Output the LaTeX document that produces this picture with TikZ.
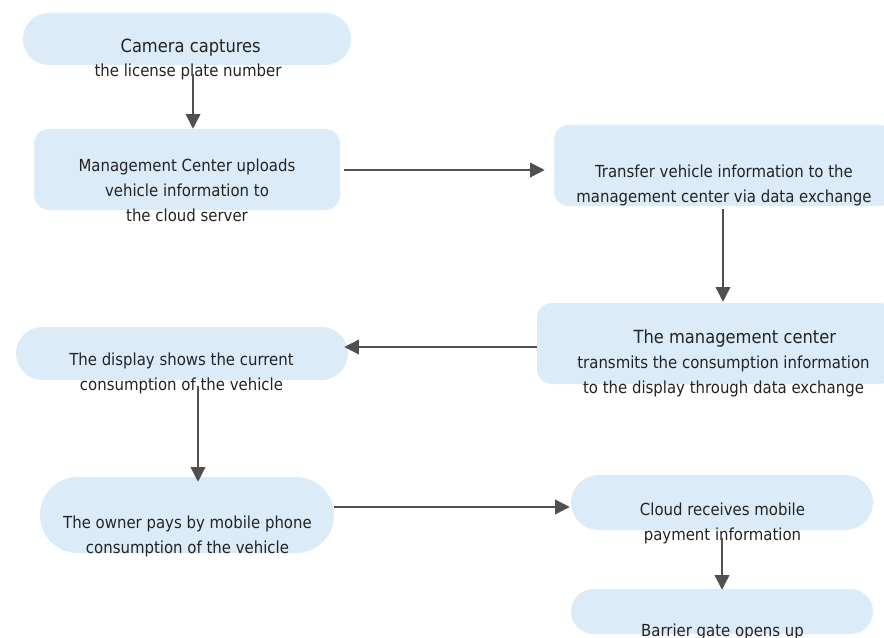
\documentclass[tikz,border=0pt]{standalone}
\usepackage{fontspec}
\setmainfont{DejaVu Sans Condensed}
\usetikzlibrary{arrows.meta,calc}
\definecolor{boxfill}{RGB}{219,236,248}
\definecolor{arrgray}{RGB}{80,80,80}
\definecolor{txtgray}{RGB}{35,35,35}
\newcommand{\bigline}[1]{{\fontsize{13.6}{18.4}\selectfont #1}}
\begin{document}
\begin{tikzpicture}[x=0.75pt,y=-0.75pt,
  box/.style={draw=none,fill=boxfill,rectangle,inner sep=0pt},
  txt/.style={text=txtgray,align=center,inner sep=0pt,anchor=base,
    font=\fontsize{12.45}{18.4}\selectfont},
  arr/.style={draw=arrgray,line width=1.1pt,-{Triangle[length=11pt,width=11pt]}}]
\useasboundingbox (0,0) rectangle (884,638);
\begin{scope}
\clip (0,0) rectangle (884,638);
% boxes
\node[box,minimum width=246pt,minimum height=39pt,rounded corners=19.4pt] (b1) at (187,39) {};
\node[box,minimum width=229.5pt,minimum height=60.75pt,rounded corners=11.25pt] (b2) at (187,169.5) {};
\node[box,minimum width=255pt,minimum height=60.75pt,rounded corners=11.25pt] (b3) at (724,165.5) {};
\node[box,minimum width=267.75pt,minimum height=60.75pt,rounded corners=11.25pt] (b4) at (715.5,343.5) {};
\node[box,minimum width=249pt,minimum height=39.75pt,rounded corners=19.8pt] (b5) at (182,353.5) {};
\node[box,minimum width=220.5pt,minimum height=57pt,rounded corners=28.4pt] (b6) at (187,515) {};
\node[box,minimum width=226.5pt,minimum height=41.25pt,rounded corners=20.6pt] (b7) at (722,502.5) {};
\node[box,minimum width=226.5pt,minimum height=33.75pt,rounded corners=16.8pt] (b8) at (722,611.5) {};
% texts (anchor base = baseline of last line)
\node[txt] (t1) at (188,77) {\hspace*{4pt}\bigline{Camera captures}\\the license plate number};
\node[txt] (t2) at (187,221) {Management Center uploads\\vehicle information to\\the cloud server};
\node[txt] (t3) at (724,202) {Transfer vehicle information to the\\management center via data exchange};
\node[txt] (t4) at (723.5,393) {\hspace*{17pt}\bigline{The management center}\\transmits the consumption information\\to the display through data exchange};
\node[txt] (t5) at (181.5,390) {The display shows the current\\consumption of the vehicle};
\node[txt] (t6) at (187.5,553) {The owner pays by mobile phone\\consumption of the vehicle};
\node[txt] (t7) at (722.5,540) {Cloud receives mobile\\payment information};
\node[txt] (t8) at (722.5,636) {Barrier gate opens up};
% arrows
\coordinate (s1) at ($(b1.south)+(6,9)$);
\draw[arr] (s1) -- (s1 |- b2.north);
\coordinate (s2) at ($(b2.east)+(4,0.5)$);
\draw[arr] (s2) -- ($(b3.west |- s2)+(-9,0)$);
\coordinate (s3) at ($(b3.south)+(-1,3)$);
\draw[arr] (s3) -- ($(s3 |- b4.north)+(0,-1)$);
\coordinate (s4) at ($(b4.west)+(0,3.5)$);
\draw[arr] (s4) -- ($(b5.east |- s4)+(-4,0)$);
\coordinate (s5) at ($(b5.south)+(16,6)$);
\draw[arr] (s5) -- ($(s5 |- b6.north)+(0,5)$);
\coordinate (s6) at ($(b6.east)+(0,-8)$);
\draw[arr] (s6) -- ($(b7.west |- s6)+(-1,0)$);
\coordinate (s7) at ($(b7.south)+(0,8)$);
\draw[arr] (s7) -- ($(s7 |- b8.north)+(0,1)$);
\end{scope}
\end{tikzpicture}
\end{document}
